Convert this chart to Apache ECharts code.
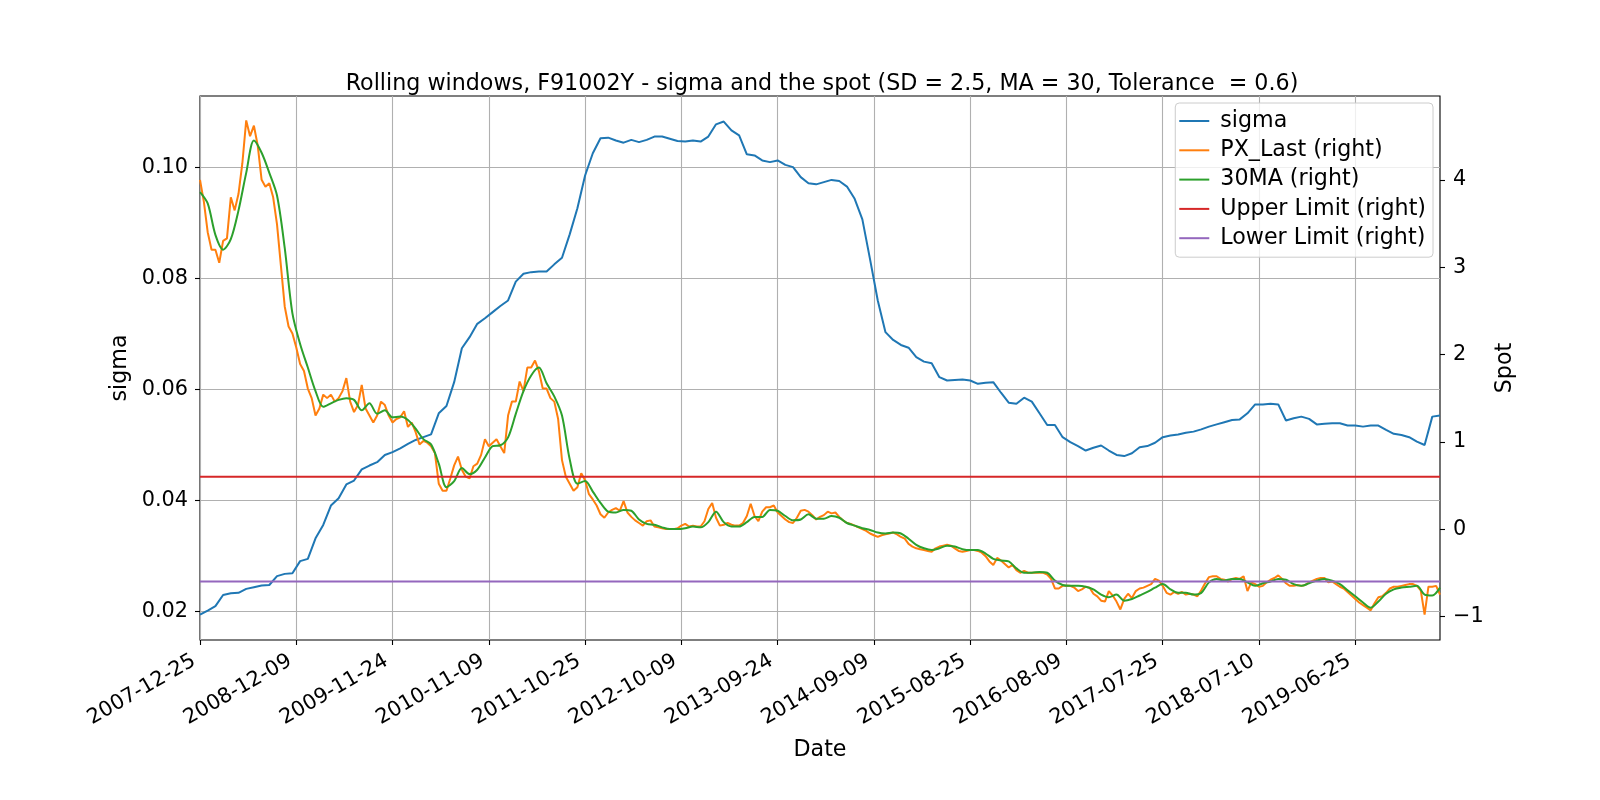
<!DOCTYPE html>
<html>
<head>
<meta charset="utf-8">
<script src="https://cdn.jsdelivr.net/npm/echarts@6/dist/echarts.min.js"></script>
<style>
  html, body { margin: 0; padding: 0; background: #fff; }
  #chart { width: 1600px; height: 800px; }
</style>
</head>
<body>
<div id="chart"></div>
<script>
// x is the business-day index from 2007-12-25; one tick label every 250 days
var tickLabels = ['2007-12-25', '2008-12-09', '2009-11-24', '2010-11-09', '2011-10-25', '2012-10-09',
  '2013-09-24', '2014-09-09', '2015-08-25', '2016-08-09', '2017-07-25', '2018-07-10', '2019-06-25'];
var tickStep = 250;
var lastDay = 3220;

// sigma, one reading every 20 days
var sigmaStep = 20;
var sigma = [
  0.01945, 0.0202, 0.0210, 0.0230, 0.0233, 0.0234, 0.0241, 0.0244, 0.0247, 0.0248,
  0.0264, 0.0268, 0.0269, 0.0291, 0.0295, 0.0332, 0.0356, 0.0391, 0.0404, 0.0429,
  0.0436, 0.0456, 0.0463, 0.0469, 0.0482, 0.0487,
  0.0494, 0.0502, 0.0509, 0.0514, 0.0519, 0.0557, 0.0570, 0.0613, 0.0674, 0.0694,
  0.0718, 0.0728, 0.0739, 0.0750, 0.0760, 0.0794, 0.0808, 0.0811, 0.0812, 0.0812,
  0.0825, 0.0837, 0.0879, 0.0926, 0.0985, 0.1025, 0.1052,
  0.1053, 0.1048, 0.1044, 0.1049, 0.1045, 0.1049, 0.1055, 0.1055, 0.1051, 0.1047,
  0.1046, 0.1048, 0.1046, 0.1055, 0.1077, 0.1082, 0.1066, 0.1057, 0.1023, 0.1021,
  0.1012, 0.1009, 0.1012, 0.1004, 0.1000, 0.0982, 0.0971,
  0.0969, 0.0973, 0.0977, 0.0975, 0.0965, 0.0943, 0.0906, 0.0834, 0.0760, 0.0703,
  0.0689, 0.0680, 0.0675, 0.0658, 0.0650, 0.0647, 0.0622, 0.0616, 0.0617, 0.0618,
  0.0616, 0.0610, 0.0612, 0.0613, 0.0594, 0.0576,
  0.0574, 0.0585, 0.0578, 0.0557, 0.0536, 0.0536, 0.0514, 0.0505, 0.0498, 0.0490,
  0.0495, 0.0499, 0.0490, 0.0482, 0.0480, 0.0485, 0.0496, 0.0498, 0.0504, 0.0514,
  0.0517, 0.0519, 0.0522, 0.0524, 0.0528, 0.0533,
  0.0537, 0.0541, 0.0545, 0.0546, 0.0557, 0.0573, 0.0573, 0.0574, 0.0573, 0.0544,
  0.0548, 0.0551, 0.0547, 0.0537, 0.0538, 0.0539, 0.0539, 0.0535, 0.0535, 0.0533,
  0.0535, 0.0535, 0.0527, 0.0520, 0.0518, 0.0514, 0.0506, 0.0500, 0.0551, 0.0553
];

// spot, one reading every 10 days
var pxStep = 10;
var pxLast = [
  4.0, 3.75, 3.4, 3.2, 3.2, 3.05, 3.3, 3.33, 3.8, 3.65,
  3.84, 4.19, 4.68, 4.5, 4.62, 4.39, 4.0, 3.92, 3.96, 3.8,
  3.49, 3.02, 2.55, 2.32, 2.24, 2.08, 1.89, 1.81, 1.61, 1.5,
  1.3, 1.38, 1.54, 1.5, 1.54, 1.46, 1.5, 1.58, 1.73, 1.46,
  1.34, 1.42, 1.65, 1.38, 1.3, 1.22, 1.3, 1.46, 1.42, 1.3,
  1.22,
  1.26, 1.28, 1.35, 1.17, 1.22, 1.11, 0.97, 1.01, 0.99, 0.95,
  0.87, 0.52, 0.44, 0.44, 0.58, 0.73, 0.83, 0.68, 0.60, 0.58,
  0.72, 0.75, 0.85, 1.03, 0.95, 0.99, 1.03, 0.95, 0.87, 1.30,
  1.46, 1.46, 1.69, 1.58, 1.85, 1.85, 1.93, 1.81, 1.61, 1.61,
  1.50, 1.46, 1.26, 0.79, 0.60, 0.52, 0.44, 0.48, 0.64, 0.56,
  0.40, 0.34, 0.27, 0.17, 0.13,
  0.19, 0.22, 0.24, 0.21, 0.32, 0.19, 0.14, 0.10, 0.07, 0.04,
  0.09, 0.10, 0.03, 0.02, 0.01, 0.0, 0.0, 0.0, 0.01, 0.04,
  0.06, 0.03, 0.04, 0.03, 0.03, 0.09, 0.23, 0.30, 0.13, 0.04,
  0.05, 0.07, 0.05, 0.04, 0.04, 0.07, 0.15, 0.29, 0.15, 0.09,
  0.20, 0.25, 0.25, 0.27, 0.19, 0.15, 0.11, 0.08, 0.07, 0.13,
  0.21, 0.22, 0.20, 0.16,
  0.11, 0.14, 0.16, 0.20, 0.18, 0.19, 0.14, 0.10, 0.07, 0.06,
  0.04, 0.02, 0.0, -0.02, -0.05, -0.07, -0.09, -0.07, -0.06, -0.05,
  -0.04, -0.06, -0.09, -0.11, -0.17, -0.20, -0.22, -0.23, -0.24, -0.25,
  -0.26, -0.22, -0.20, -0.19, -0.18, -0.19, -0.22, -0.25, -0.26, -0.25,
  -0.24, -0.24, -0.25, -0.27, -0.31, -0.37, -0.41, -0.33, -0.36, -0.40,
  -0.44,
  -0.41, -0.47, -0.50, -0.48, -0.50, -0.50, -0.50, -0.50, -0.50, -0.52,
  -0.57, -0.68, -0.68, -0.65, -0.65, -0.65, -0.67, -0.71, -0.69, -0.66,
  -0.67, -0.74, -0.77, -0.82, -0.83, -0.71, -0.76, -0.83, -0.92, -0.80,
  -0.74, -0.79, -0.71, -0.68, -0.67, -0.65, -0.63, -0.57, -0.59, -0.65,
  -0.73, -0.75, -0.72, -0.74, -0.72, -0.75, -0.74, -0.75, -0.77, -0.70,
  -0.62, -0.55,
  -0.54, -0.54, -0.57, -0.58, -0.60, -0.57, -0.56, -0.57, -0.54, -0.71,
  -0.61, -0.63, -0.66, -0.65, -0.61, -0.58, -0.56, -0.53, -0.57, -0.62,
  -0.65, -0.65, -0.64, -0.65, -0.64, -0.61, -0.59, -0.57, -0.56, -0.56,
  -0.61, -0.60, -0.63, -0.66, -0.68, -0.72, -0.76, -0.80, -0.84, -0.87,
  -0.90, -0.93, -0.85, -0.78, -0.77, -0.73, -0.68, -0.66, -0.66, -0.65,
  -0.64, -0.63, -0.63, -0.65, -0.70, -0.98, -0.66, -0.66, -0.65, -0.75
];

// 30 day moving average, one reading every 20 days
var maStep = 20;
var ma30 = [
  3.86, 3.73, 3.37, 3.20, 3.32, 3.65, 4.08, 4.45, 4.31, 4.08,
  3.82, 3.22, 2.47, 2.12, 1.85, 1.58, 1.40, 1.44, 1.48, 1.50,
  1.48, 1.36, 1.44, 1.32, 1.36, 1.28,
  1.29, 1.25, 1.15, 1.03, 0.97, 0.75, 0.48, 0.55, 0.70, 0.63,
  0.68, 0.82, 0.95, 0.96, 1.05, 1.32, 1.58, 1.76, 1.85, 1.67,
  1.52, 1.30, 0.80, 0.52, 0.55, 0.43, 0.30,
  0.20, 0.19, 0.22, 0.21, 0.11, 0.06, 0.05, 0.02, 0.0, 0.0,
  0.01, 0.03, 0.02, 0.08, 0.20, 0.08, 0.03, 0.03, 0.08, 0.14,
  0.14, 0.22, 0.21, 0.15, 0.10, 0.11, 0.17,
  0.12, 0.12, 0.15, 0.13, 0.07, 0.04, 0.01, -0.01, -0.04, -0.05,
  -0.04, -0.05, -0.11, -0.18, -0.22, -0.24, -0.22, -0.19, -0.20, -0.23,
  -0.24, -0.24, -0.28, -0.34, -0.36, -0.37,
  -0.45, -0.50, -0.50, -0.49, -0.50, -0.59, -0.64, -0.65, -0.65, -0.66,
  -0.69, -0.75, -0.78, -0.75, -0.82, -0.80, -0.76, -0.72, -0.67, -0.63,
  -0.69, -0.73, -0.73, -0.75, -0.73, -0.61,
  -0.57, -0.59, -0.57, -0.57, -0.61, -0.65, -0.62, -0.60, -0.57, -0.58,
  -0.63, -0.65, -0.62, -0.59, -0.57, -0.59, -0.63, -0.70, -0.77, -0.84,
  -0.90, -0.83, -0.74, -0.69, -0.67, -0.66, -0.65, -0.75, -0.76, -0.67
];

var upperLimit = 0.6;
var lowerLimit = -0.6;

var sigmaTicks = [0.02, 0.04, 0.06, 0.08, 0.10];
var spotTicks = [-1, 0, 1, 2, 3, 4];

function pairs(values, step) {
  return values.map(function (v, k) { return [k * step, v]; });
}

function flat(v) {
  return [[0, v], [lastDay, v]];
}

var xTicks = tickLabels.map(function (d, k) { return k * tickStep; });
var font = 'DejaVu Sans';
var gridColor = '#b0b0b0';

var chart = echarts.init(document.getElementById('chart'), null, { renderer: 'canvas' });

chart.setOption({
  animation: false,
  backgroundColor: '#fff',
  textStyle: { fontFamily: font, color: '#000' },
  title: {
    text: 'Rolling windows, F91002Y - sigma and the spot (SD = 2.5, MA = 30, Tolerance  = 0.6)',
    left: 817,
    top: 66,
    textAlign: 'center',
    textStyle: { fontFamily: font, fontSize: 22.2, fontWeight: 'normal', color: '#000', lineHeight: 26 }
  },
  legend: {
    orient: 'vertical',
    right: 167,
    top: 103,
    icon: 'rect',
    itemWidth: 30,
    itemHeight: 2,
    itemGap: 7.3,
    padding: [7, 7, 8, 4],
    backgroundColor: 'rgba(255,255,255,0.8)',
    borderColor: '#cccccc',
    borderWidth: 1,
    borderRadius: 4,
    textStyle: { fontFamily: font, fontSize: 22.2, color: '#000', lineHeight: 22, padding: [0, 0, 0, 6] },
    data: ['sigma', 'PX_Last (right)', '30MA (right)', 'Upper Limit (right)', 'Lower Limit (right)']
  },
  grid: {
    left: 200,
    right: 160,
    top: 96,
    bottom: 160,
    show: true,
    borderColor: '#000',
    borderWidth: 1.1,
    containLabel: false
  },
  xAxis: {
    type: 'value',
    min: 0,
    max: lastDay,
    interval: tickStep,
    name: 'Date',
    nameLocation: 'middle',
    nameGap: 99,
    nameTextStyle: { fontFamily: font, fontSize: 22.2, color: '#000' },
    axisLine: { show: false, onZero: false },
    axisTick: { show: true, inside: false, length: 5, customValues: xTicks, lineStyle: { color: '#000', width: 1.1 } },
    axisLabel: {
      customValues: xTicks,
      rotate: 30,
      margin: 16,
      padding: [0, 7, 0, 0],
      fontFamily: font,
      fontSize: 20.8,
      color: '#000',
      formatter: function (v) {
        var k = Math.round(v / tickStep);
        return (k * tickStep === v && tickLabels[k]) ? tickLabels[k] : '';
      }
    },
    splitLine: { show: true, lineStyle: { color: gridColor, width: 1.1 } }
  },
  yAxis: [
    {
      type: 'value',
      position: 'left',
      min: 0.0149,
      max: 0.1128,
      splitNumber: 5,
      name: 'sigma',
      nameLocation: 'middle',
      nameRotate: 90,
      nameGap: 63,
      nameTextStyle: { fontFamily: font, fontSize: 22.2, color: '#000' },
      axisLine: { show: false, onZero: false },
      axisTick: { show: true, length: 5, customValues: sigmaTicks, lineStyle: { color: '#000', width: 1.1 } },
      axisLabel: {
        customValues: sigmaTicks,
        margin: 12,
        fontFamily: font,
        fontSize: 20.8,
        color: '#000',
        formatter: function (v) { return v.toFixed(2); }
      },
      splitLine: { show: true, lineStyle: { color: gridColor, width: 1.1 } }
    },
    {
      type: 'value',
      position: 'right',
      min: -1.27,
      max: 4.96,
      splitNumber: 6,
      name: 'Spot',
      nameLocation: 'middle',
      nameRotate: 90,
      nameGap: 48,
      nameTextStyle: { fontFamily: font, fontSize: 22.2, color: '#000' },
      axisLine: { show: false, onZero: false },
      axisTick: { show: true, length: 5, customValues: spotTicks, lineStyle: { color: '#000', width: 1.1 } },
      axisLabel: {
        customValues: spotTicks,
        margin: 13,
        fontFamily: font,
        fontSize: 20.8,
        color: '#000',
        formatter: function (v) { return v < 0 ? '\u2212' + Math.abs(v) : String(v); }
      },
      splitLine: { show: false }
    }
  ],
  series: [
    {
      name: 'sigma', type: 'line', yAxisIndex: 0, symbol: 'none', showSymbol: false,
      lineStyle: { color: '#1f77b4', width: 2 }, itemStyle: { color: '#1f77b4' },
      data: pairs(sigma, sigmaStep)
    },
    {
      name: 'PX_Last (right)', type: 'line', yAxisIndex: 1, symbol: 'none', showSymbol: false,
      lineStyle: { color: '#ff7f0e', width: 2 }, itemStyle: { color: '#ff7f0e' },
      data: pairs(pxLast, pxStep)
    },
    {
      name: '30MA (right)', type: 'line', yAxisIndex: 1, symbol: 'none', showSymbol: false, smooth: 0.3,
      lineStyle: { color: '#2ca02c', width: 2 }, itemStyle: { color: '#2ca02c' },
      data: pairs(ma30, maStep)
    },
    {
      name: 'Upper Limit (right)', type: 'line', yAxisIndex: 1, symbol: 'none', showSymbol: false,
      lineStyle: { color: '#d62728', width: 2 }, itemStyle: { color: '#d62728' },
      data: flat(upperLimit)
    },
    {
      name: 'Lower Limit (right)', type: 'line', yAxisIndex: 1, symbol: 'none', showSymbol: false,
      lineStyle: { color: '#9467bd', width: 2 }, itemStyle: { color: '#9467bd' },
      data: flat(lowerLimit)
    }
  ]
});
</script>
</body>
</html>
